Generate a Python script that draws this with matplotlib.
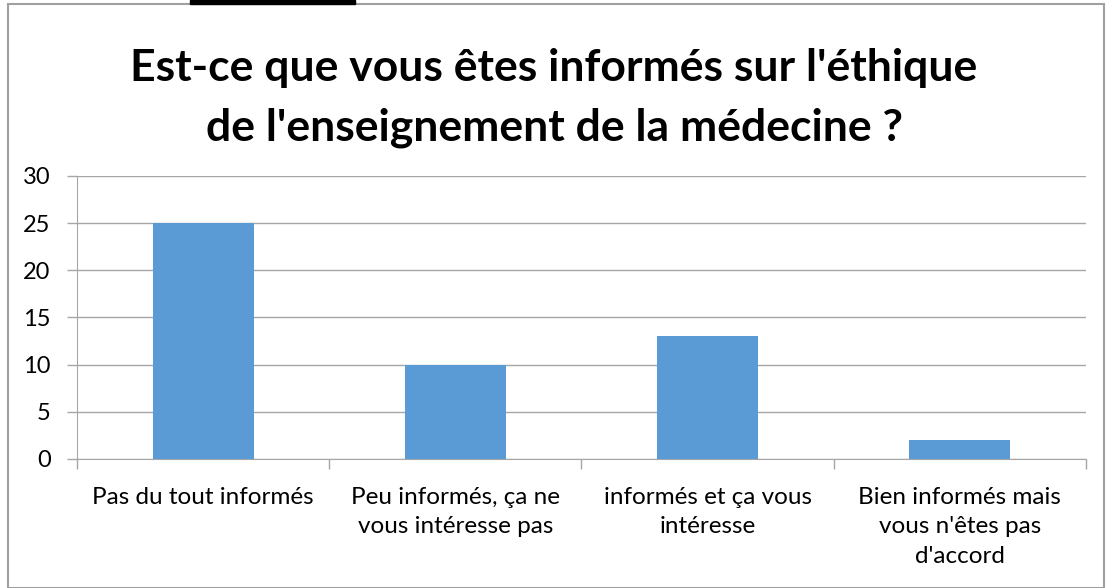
import matplotlib.pyplot as plt
from matplotlib.patches import Rectangle

# data
categories = ['Pas du tout informés',
              'Peu informés, ça ne\nvous intéresse pas',
              'informés et ça vous\nintéresse',
              "Bien informés mais\nvous n'êtes pas\nd'accord"]
values = [25, 10, 13, 2]
yticks = [0, 5, 10, 15, 20, 25, 30]
title = "Est-ce que vous êtes informés sur l'éthique\nde l'enseignement de la médecine ?"

plt.rcParams['font.family'] = ['Lato', 'DejaVu Sans']

fig = plt.figure(figsize=(11.08, 5.88), dpi=100)
ax = fig.add_axes([0.0695, 0.2194, 0.9105, 0.4813])

grid_col = '#a6a6a6'
pos = range(len(values))
ax.bar(pos, values, width=0.4, color='#5b9bd5', zorder=3)

ax.set_xlim(-0.5, len(values) - 0.5)
ax.set_ylim(0, 30)
ax.set_yticks(yticks)
ax.yaxis.grid(True, color=grid_col, linewidth=1, zorder=0)

# category labels centred, tick marks on the boundaries
ax.set_xticks([p - 0.5 for p in range(len(values) + 1)])
ax.set_xticklabels([])
ax.set_xticks(list(pos), minor=True)
ax.set_xticklabels(categories, minor=True, fontsize=17.5, linespacing=1.5, va='top')
ax.tick_params(axis='x', which='minor', length=0, pad=20)
ax.tick_params(axis='x', which='major', length=7, color=grid_col, width=1)
ax.tick_params(axis='y', length=7, color=grid_col, width=1, labelsize=17, pad=12)

for s in ['top', 'right']:
    ax.spines[s].set_visible(False)
for s in ['left', 'bottom']:
    ax.spines[s].set_color(grid_col)

fig.text(0.5, 0.833, title, ha='center', va='center', fontsize=32,
         fontweight='bold', linespacing=1.6)

# outer border and black strip at top
fig.patches.append(Rectangle((8 / 1108, 0), 1096 / 1108, 1 - 4 / 588,
                             transform=fig.transFigure, fill=False,
                             edgecolor='#a0a0a0', linewidth=1.5))
fig.patches.append(Rectangle((190 / 1108, 1 - 4 / 588), 165 / 1108, 4 / 588,
                             transform=fig.transFigure, color='black'))

fig.savefig('out.png', dpi=100)
